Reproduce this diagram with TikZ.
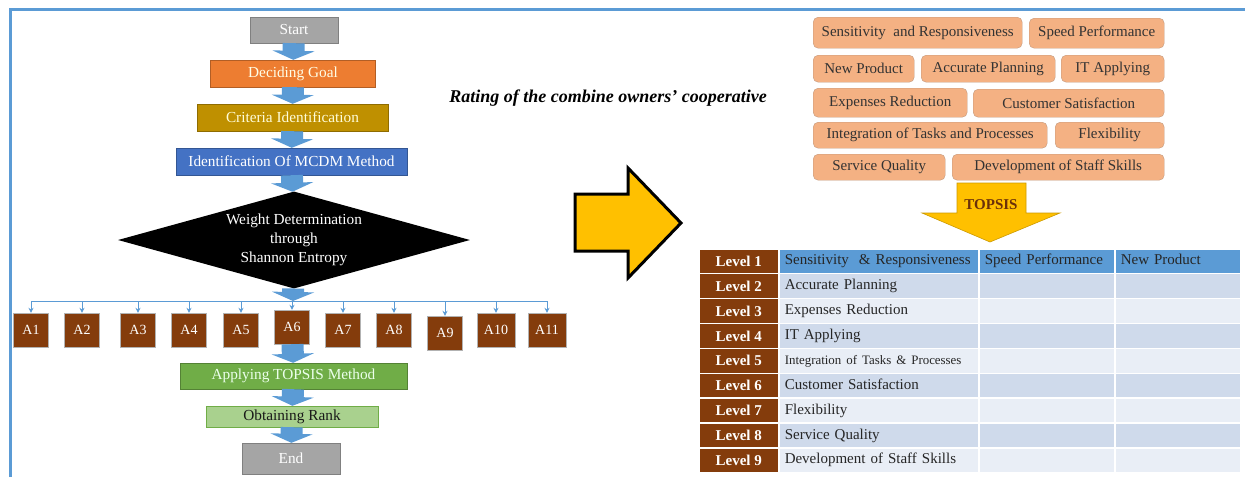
\documentclass[tikz,border=0pt]{standalone}
\usepackage{fontspec}
\setmainfont{Liberation Serif}
\usepackage{tikz}
\usetikzlibrary{arrows.meta,shapes.geometric,positioning,calc}

\definecolor{flowblue}{HTML}{5B9BD5}
\definecolor{greyfill}{HTML}{A5A5A5}
\definecolor{goalorange}{HTML}{ED7D31}
\definecolor{critgold}{HTML}{BF9000}
\definecolor{mcdmblue}{HTML}{4472C4}
\definecolor{topsisgreen}{HTML}{70AD47}
\definecolor{rankgreen}{HTML}{A9D18E}
\definecolor{altbrown}{HTML}{843C0C}
\definecolor{peach}{HTML}{F4B183}
\definecolor{peachline}{HTML}{C39A7E}
\definecolor{arrowyellow}{HTML}{FFC000}
\definecolor{rowdark}{HTML}{CFDAEB}
\definecolor{rowlight}{HTML}{E9EEF6}

\tikzset{
  stepbox/.style={draw, minimum height=27pt, inner sep=0pt, font=\fontsize{15.3}{18}\selectfont},
  flow/.style={draw=flowblue, line width=22pt, -{Triangle[width=42pt,length=9pt]}},
  busline/.style={draw=flowblue, line width=1pt},
  tick/.style={draw=flowblue, line width=0.8pt, -{Stealth[width=5pt,length=5pt]}},
  alt/.style={draw=gray!60, fill=altbrown, text=white, minimum height=34pt, inner sep=0pt, font=\fontsize{14}{16}\selectfont},
  crit/.style={draw=peachline, fill=peach, rounded corners=5pt, text=black!80, inner sep=0pt, anchor=north west, font=\fontsize{15}{18}\selectfont},
  lvl/.style={draw=white, line width=1.5pt, fill=altbrown, text=white, anchor=north west, minimum width=80pt, minimum height=24.9pt, inner sep=0pt, font=\bfseries\fontsize{15}{18}\selectfont},
  cell/.style={draw=white, line width=1.5pt, anchor=north west, minimum height=24.9pt, inner ysep=0pt, inner xsep=6pt,
               text height=10.5pt, text depth=3.5pt, align=left, text=black!85, font=\fontsize{15}{18}\selectfont}
}

\begin{document}
\begin{tikzpicture}[x=1pt,y=-1pt]
  \useasboundingbox (0,0) rectangle (1245,477);
  \draw[flowblue, line width=3pt] (10.5,477) -- (10.5,9.5) -- (1245,9.5);

  % flow chart
  \node[stepbox, fill=greyfill, draw=gray, text=white, minimum width=88pt, minimum height=26pt] (start) at (294,30) {Start};
  \node[stepbox, fill=goalorange, draw=goalorange!75!black, text=white!90!yellow, minimum width=165pt] (goal) at (293,73.5) {Deciding Goal};
  \node[stepbox, fill=critgold, draw=critgold!75!black, text=yellow!15, minimum width=191pt] (crit) at (292.5,117.5) {Criteria Identification};
  \node[stepbox, fill=mcdmblue, draw=mcdmblue!75!black, text=white, minimum width=231pt] (mcdm) at (291.5,161.5) {Identification Of MCDM Method};
  \node[diamond, fill=black, aspect=3.6, minimum width=352pt, minimum height=97pt, inner sep=0pt,
        text=white, align=center, font=\fontsize{15.3}{19}\selectfont] (weight) at (294,240)
        {Weight Determination\\through\\Shannon Entropy};
  \coordinate (bus) at (293,301);

  \foreach \i/\x/\y/\w in {1/31/330/35, 2/82/330/35, 3/138/330/35, 4/189/330/35, 5/241/330/35, 6/292/327/35,
                           7/343/330/35, 8/394/330/35, 9/445/333/35, 10/496/330/38, 11/547/330/38}
    \node[alt, minimum width=\w pt] (a\i) at (\x,\y) {A\i};

  \node[stepbox, fill=topsisgreen, draw=topsisgreen!75!black, text=green!8, minimum width=227pt, minimum height=26pt] (apply) at (293.5,376) {Applying TOPSIS Method};
  \node[stepbox, fill=rankgreen, draw=topsisgreen, text=black!90, minimum width=172pt, minimum height=21pt] (rank) at (292,416.5) {Obtaining Rank};
  \node[stepbox, fill=greyfill, draw=gray, text=white, minimum width=98pt, minimum height=31pt] (stop) at (291,458.5) {End};

  \draw[flow] (start) -- (goal);
  \draw[flow] (goal) -- (crit);
  \draw[flow] (crit) -- (mcdm);
  \draw[flow] (mcdm) -- (weight);
  \draw[flow] (weight) -- (bus);
  \draw[busline] (a1 |- bus) -- (a11 |- bus);
  \foreach \i in {1,...,11}
    \draw[tick] (a\i |- bus) -- (a\i);
  \draw[flow] (a6) -- (apply);
  \draw[flow] (apply) -- (rank);
  \draw[flow] (rank) -- (stop);

  \node[font=\bfseries\itshape\fontsize{18}{20}\selectfont] (title) at (608,98) {Rating of the combine owners’ cooperative};

  % big arrow
  \draw[fill=arrowyellow, line width=3pt, line join=miter]
    (575,194) -- (628,194) -- (628,168) -- (681,223) -- (628,278) -- (628,251) -- (575,251) -- cycle;

  % criteria
  \node[crit, minimum width=209pt, minimum height=31pt] (sens) at (813,17) {Sensitivity\ \ and Responsiveness};
  \node[crit, minimum width=135pt, minimum height=30pt] (speed) at (1029,18) {Speed Performance};
  \node[crit, minimum width=101pt, minimum height=27pt] (newprod) at (813,55) {New Product};
  \node[crit, minimum width=134pt, minimum height=27pt] (plan) at (921,55) {Accurate Planning};
  \node[crit, minimum width=103pt, minimum height=27pt] (itapp) at (1061,55) {IT Applying};
  \node[crit, minimum width=154pt, minimum height=29pt] (expred) at (813,88) {Expenses Reduction};
  \node[crit, minimum width=191pt, minimum height=28pt] (custsat) at (973,89) {Customer Satisfaction};
  \node[crit, minimum width=234pt, minimum height=26pt] (integ) at (813,122) {Integration of Tasks and Processes};
  \node[crit, minimum width=109pt, minimum height=26pt] (flex) at (1055,122) {Flexibility};
  \node[crit, minimum width=132pt, minimum height=26pt] (servq) at (813,154) {Service Quality};
  \node[crit, minimum width=212pt, minimum height=26pt] (staff) at (952,154) {Development of Staff Skills};

  % TOPSIS arrow
  \coordinate (tip) at (990,242);
  \draw[fill=arrowyellow, draw=arrowyellow!80!black, line width=0.6pt]
    (957,183) -- (1026,183) -- (1026,213) -- (1060,213) -- (tip) -- (922,213) -- (957,213) -- cycle;
  \node[font=\bfseries\fontsize{15}{18}\selectfont, text=altbrown!80!black] (topsis) at (991,205) {TOPSIS};

  % levels
  \node[lvl] (lvl1) at (698,248) {Level 1};
  \node[cell, fill=flowblue, text width=188pt] (c1-a) at (778,248) {Sensitivity\ \ \& Responsiveness};
  \node[cell, fill=flowblue, text width=124pt] (c1-b) at (978,248) {Speed Performance};
  \node[cell, fill=flowblue, text width=114pt] (c1-c) at (1114,248) {New Product};
  \foreach \i/\txt in {2/Accurate Planning, 3/Expenses Reduction, 4/IT Applying,
                       5/{\fontsize{12.9}{14}\selectfont Integration of Tasks \& Processes},
                       6/Customer Satisfaction, 7/Flexibility, 8/Service Quality, 9/Development of Staff Skills}{
    \pgfmathsetmacro\yy{248+(\i-1)*24.9}
    \ifodd\i \def\rowcol{rowlight}\else \def\rowcol{rowdark}\fi
    \node[lvl] (lvl\i) at (698,\yy) {Level \i};
    \node[cell, fill=\rowcol, text width=188pt] (c\i-a) at (778,\yy) {\txt};
    \node[cell, fill=\rowcol, text width=124pt] (c\i-b) at (978,\yy) {};
    \node[cell, fill=\rowcol, text width=114pt] (c\i-c) at (1114,\yy) {};
  }
\end{tikzpicture}
\end{document}
